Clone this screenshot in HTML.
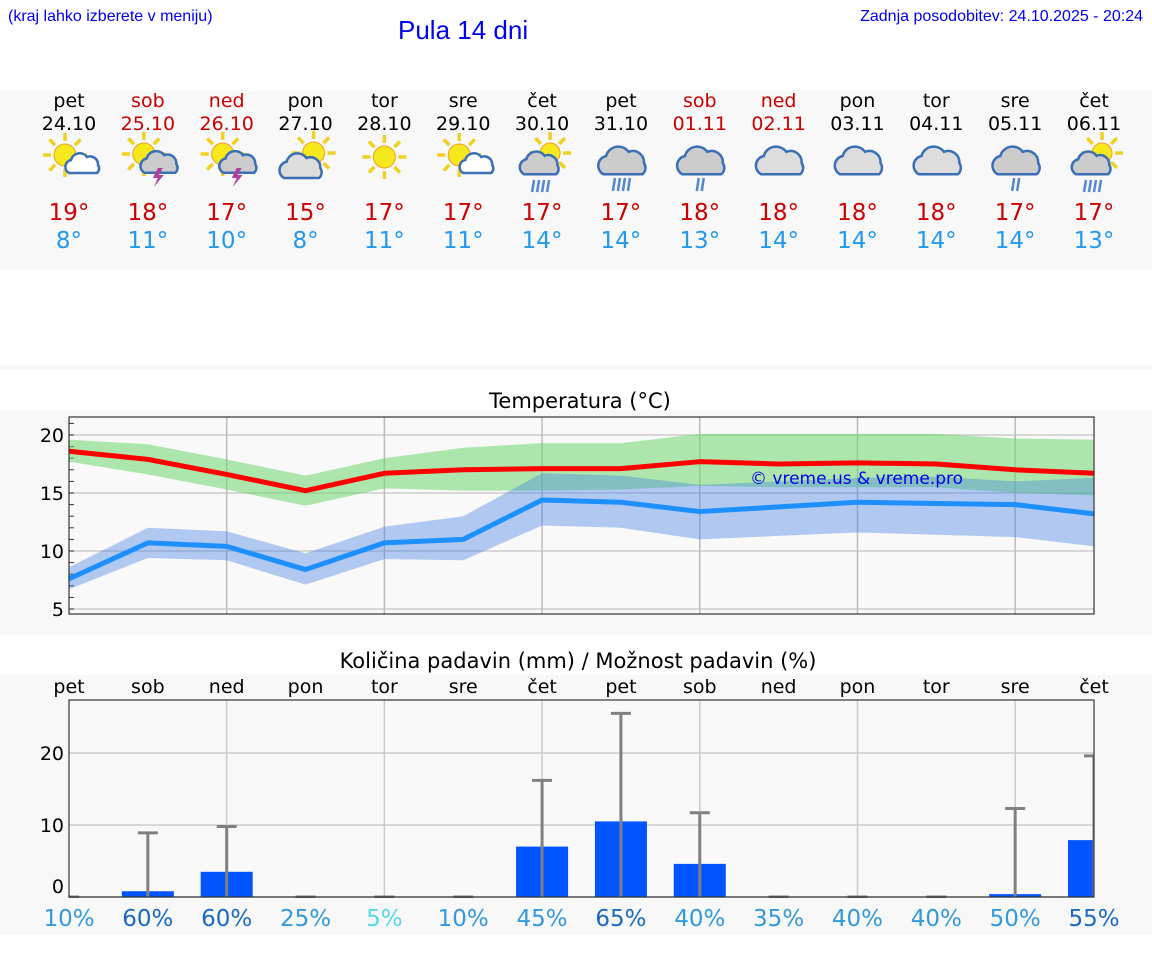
<!DOCTYPE html>
<html><head><meta charset="utf-8">
<style>
body{margin:0;background:#fff;font-family:"DejaVu Sans","Liberation Sans",sans-serif;}
svg text{font-family:"DejaVu Sans","Liberation Sans",sans-serif;}
svg text.hdr{font-family:"Liberation Sans",sans-serif;}
</style></head>
<body>
<svg id="s" width="1152" height="975" viewBox="0 0 1152 975" xmlns="http://www.w3.org/2000/svg">
<defs><clipPath id="pclip"><rect x="69" y="690" width="1025" height="208"/></clipPath></defs>
<rect x="0" y="0" width="1152" height="975" fill="#fff"/>
<rect x="0" y="90" width="1152" height="180" fill="#f8f8f8"/>
<rect x="0" y="365" width="1152" height="5" fill="#f8f8f8"/>
<rect x="0" y="410" width="1152" height="225" fill="#f8f8f8"/>
<rect x="0" y="675" width="1152" height="260" fill="#f8f8f8"/>
<text class="hdr" x="8" y="21" font-size="16" fill="#0000ee">(kraj lahko izberete v meniju)</text>
<text class="hdr" x="398" y="39" font-size="26" fill="#0000ee">Pula 14 dni</text>
<text class="hdr" x="1143" y="21" font-size="16" fill="#0000ee" text-anchor="end">Zadnja posodobitev: 24.10.2025 - 20:24</text>
<text x="580" y="408" font-size="21" fill="#000" text-anchor="middle">Temperatura (°C)</text>
<text x="578" y="668" font-size="21" fill="#000" text-anchor="middle">Količina padavin (mm) / Možnost padavin (%)</text>
<g id="topg"></g>
<g id="temp"></g>
<g id="prec"></g>
</svg>
<script>
const days=["pet","sob","ned","pon","tor","sre","čet","pet","sob","ned","pon","tor","sre","čet"];
const dates=["24.10","25.10","26.10","27.10","28.10","29.10","30.10","31.10","01.11","02.11","03.11","04.11","05.11","06.11"];
const weekend=[0,1,1,0,0,0,0,0,1,1,0,0,0,0];
const icons=["sc","st","st","cs","s","sc","cr","r","r","c","c","c","r","cr"];
const hiLabels=[19,18,17,15,17,17,17,17,18,18,18,18,17,17];
const loLabels=[8,11,10,8,11,11,14,14,13,14,14,14,14,13];
const tMax=[18.6,17.9,16.6,15.2,16.7,17.0,17.1,17.1,17.7,17.5,17.6,17.5,17.0,16.7];
const tMaxHi=[19.6,19.2,17.9,16.5,18.0,18.9,19.3,19.3,20.1,20.1,20.1,20.1,19.7,19.6];
const tMaxLo=[17.7,16.6,15.3,13.9,15.4,15.2,15.2,15.3,15.6,15.5,15.5,15.5,15.0,14.8];
const tMin=[7.6,10.7,10.4,8.4,10.7,11.0,14.4,14.2,13.4,13.8,14.2,14.1,14.0,13.2];
const tMinHi=[8.6,12.0,11.7,9.8,12.1,13.0,16.7,16.5,15.7,16.0,16.3,16.4,16.0,16.3];
const tMinLo=[6.7,9.4,9.2,7.1,9.3,9.2,12.2,12.0,11.0,11.3,11.6,11.4,11.2,10.4];
const tTicks=[5,10,15,20];
const precip=[0,0.8,3.5,0,0,0,7.0,10.5,4.6,0,0,0,0.4,7.9];
const precipMax=[0,8.9,9.8,0,0,0,16.2,25.5,11.7,0,0,0,12.3,19.6];
const chance=[10,60,60,25,5,10,45,65,40,35,40,40,50,55];
const pTicks=[0,10,20];
const NS="http://www.w3.org/2000/svg";
function mk(p,tag,a,txt){const e=document.createElementNS(NS,tag);for(const k in a)e.setAttribute(k,a[k]);if(txt!==undefined)e.textContent=txt;p.appendChild(e);return e;}
const X0=69,X1=1094;
function xd(i){return X0+i*(X1-X0)/13;}
function yt(v){return 435+(20-v)*11.6;}
function yp(v){return 897-v*7.2;}
// top forecast
const topG=document.getElementById('topg');
function sun(g,cx,cy,r){for(let k=0;k<8;k++){const a=k*Math.PI/4;mk(g,'line',{x1:cx+Math.cos(a)*(r+3),y1:cy+Math.sin(a)*(r+3),x2:cx+Math.cos(a)*(r+11),y2:cy+Math.sin(a)*(r+11),stroke:'#f0d020','stroke-width':3.5});}mk(g,'circle',{cx:cx,cy:cy,r:r,fill:'#f5e81c',stroke:'#f0a020','stroke-width':1});}
function cloud(g,cx,cy,s,fill){mk(g,'path',{d:`M${cx-14*s} ${cy+8*s} a${7*s} ${7*s} 0 0 1 ${2*s} ${-13*s} a${9*s} ${9*s} 0 0 1 ${16*s} ${-3*s} a${8*s} ${8*s} 0 0 1 ${11*s} ${8*s} a${6*s} ${6*s} 0 0 1 ${-1*s} ${8*s} z`,fill:fill,stroke:'#3a6fb5','stroke-width':2.5});}
for(let i=0;i<14;i++){
  const x=xd(i);
  const g=mk(topG,'g',{});
  
  
  const col=weekend[i]?'#cc0000':'#000';
  mk(g,'text',{x:x,y:107,'font-size':19,fill:col,'text-anchor':'middle'},days[i]);
  mk(g,'text',{x:x,y:130,'font-size':19,fill:col,'text-anchor':'middle'},dates[i]);
  mk(g,'text',{x:x,y:220,'font-size':23,fill:'#cc0000','text-anchor':'middle'},hiLabels[i]+'°');
  mk(g,'text',{x:x,y:248,'font-size':23,fill:'#2299ee','text-anchor':'middle'},loLabels[i]+'°');
  const ic=mk(g,'g',{});
  
  
  const t=icons[i];
  if(t==='s'){sun(ic,x,157,11);}
  else if(t==='sc'){sun(ic,x-4,155,11);cloud(ic,x+14,165,1.0,'#fff');}
  else if(t==='st'){sun(ic,x-4,154,11);cloud(ic,x+12,164,1.1,'#ccc');mk(ic,'path',{d:`M${x+10} 168 l-5 10 h5 l-4 9 l10 -12 h-5 l4 -7 z`,fill:'#b040a0'});}
  else if(t==='cs'){sun(ic,x+8,153,11);cloud(ic,x-4,168,1.25,'#ddd');}
  else if(t==='cr'){sun(ic,x+8,153,10);cloud(ic,x-2,165,1.15,'#ccc');for(let k=0;k<4;k++)mk(ic,'line',{x1:x-8+k*5,y1:180,x2:x-10+k*5,y2:192,stroke:'#5588cc','stroke-width':2.5});}
  else if(t==='r'){cloud(ic,x+2,163,1.4,'#ccc');const n=(i===8||i===12)?2:4;for(let k=0;k<n;k++)mk(ic,'line',{x1:x-6+k*5+(n==2?5:0),y1:178,x2:x-8+k*5+(n==2?5:0),y2:191,stroke:'#5588cc','stroke-width':2.5});}
  else {cloud(ic,x+2,163,1.4,'#ddd');}
}
// temperature chart
const tc=document.getElementById('temp');
mk(tc,'rect',{x:X0,y:417,width:X1-X0,height:197,fill:'#f9f9f9'});
for(const v of tTicks){mk(tc,'line',{x1:X0,x2:X1,y1:yt(v),y2:yt(v),stroke:'#ccc','stroke-width':1.5});
 const l=mk(tc,'text',{x:X0-5,y:yt(v)+7,'font-size':19,'text-anchor':'end',fill:'#000'},v);
 }
for(let v=5;v<=21;v++)mk(tc,'line',{x1:X0,x2:X0+5,y1:yt(v),y2:yt(v),stroke:'#333','stroke-width':1});
for(let i=2;i<14;i+=2)mk(tc,'line',{x1:xd(i),x2:xd(i),y1:417,y2:614,stroke:'#bbb','stroke-width':1.5});
function band(hi,lo,fill){let d='';hi.forEach((v,i)=>d+=(i?'L':'M')+xd(i)+' '+yt(v));for(let i=lo.length-1;i>=0;i--)d+='L'+xd(i)+' '+yt(lo[i]);return mk(tc,'path',{d:d+'Z',fill:fill});}
function line(a,c){let d='';a.forEach((v,i)=>d+=(i?'L':'M')+xd(i)+' '+yt(v));return mk(tc,'path',{d:d,fill:'none',stroke:c,'stroke-width':5,'stroke-linejoin':'round'});}
const gb=band(tMaxHi,tMaxLo,'rgba(110,215,110,0.55)');
const bb=band(tMinHi,tMinLo,'rgba(70,130,230,0.4)');
const rl=line(tMax,'#ff0000');
const bl=line(tMin,'#1e8fff');
mk(tc,'text',{x:750,y:484,'font-size':17,fill:'#0000ee'},'© vreme.us & vreme.pro');
mk(tc,'rect',{x:X0,y:417,width:X1-X0,height:197,fill:'none',stroke:'#333','stroke-width':1.2});
// precip chart
const pc=document.getElementById('prec');
mk(pc,'rect',{x:X0,y:700,width:X1-X0,height:197,fill:'#f9f9f9'});
for(const v of pTicks){mk(pc,'line',{x1:X0,x2:X1,y1:yp(v),y2:yp(v),stroke:'#ccc','stroke-width':1.5});
 const l=mk(pc,'text',{x:X0-5,y:(v===0?893:yp(v)+7),'font-size':19,'text-anchor':'end',fill:'#000'},v);
 }
for(let i=2;i<14;i+=2)mk(pc,'line',{x1:xd(i),x2:xd(i),y1:700,y2:897,stroke:'#ccc','stroke-width':1.5});
const marks=mk(pc,'g',{'clip-path':'url(#pclip)'});
for(let i=0;i<14;i++){
  const x=xd(i);
  const dl=mk(pc,'text',{x:x,y:693,'font-size':19,'text-anchor':'middle',fill:'#000'},days[i]);
  
  if(precip[i]>0){const b=mk(marks,'rect',{x:x-26,y:yp(precip[i]),width:52,height:897-yp(precip[i]),fill:'#0055ff'});
    }
  const e=mk(marks,'g',{});
  
  
  mk(e,'line',{x1:x,x2:x,y1:yp(precipMax[i]),y2:897,stroke:'#808080','stroke-width':3});
  mk(e,'line',{x1:x-10,x2:x+10,y1:yp(precipMax[i]),y2:yp(precipMax[i]),stroke:'#808080','stroke-width':3});
  const c=chance[i];const col=c<=5?'#55d8e8':(c>=55?'#1a6ac0':'#3399dd');
  const t=mk(pc,'text',{x:x,y:926,'font-size':23,'text-anchor':'middle',fill:col},c+'%');
  
}
mk(pc,'rect',{x:X0,y:700,width:X1-X0,height:197,fill:'none',stroke:'#333','stroke-width':1.2});
</script>
</body></html>
